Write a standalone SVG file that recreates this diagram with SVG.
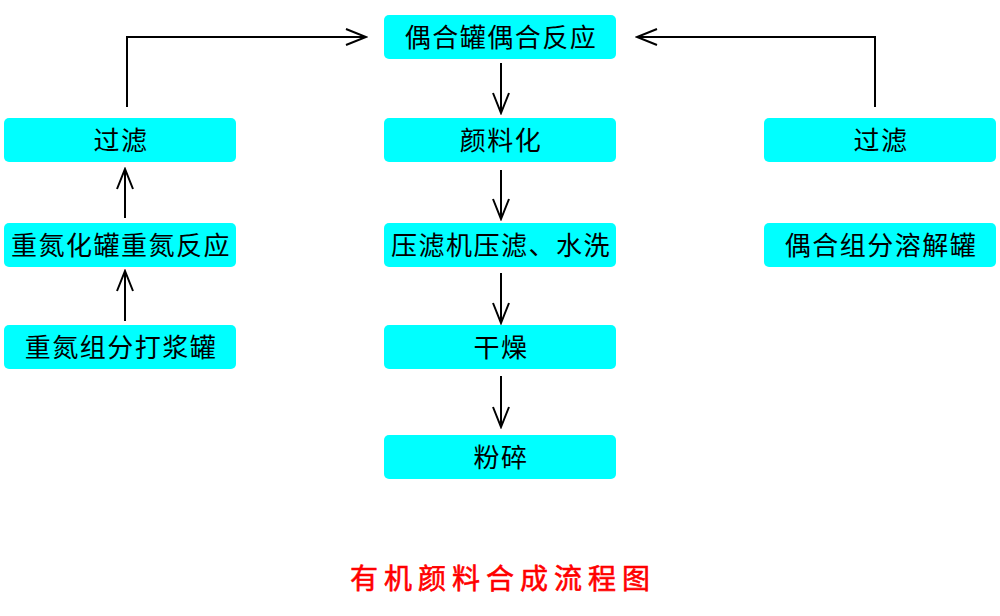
<svg xmlns="http://www.w3.org/2000/svg" width="1000" height="616" viewBox="0 0 1000 616">
<style>
.box{fill:#00FFFF}
.lbl{font-family:"Noto Sans CJK SC","Noto Sans",sans-serif;font-size:26px;font-weight:normal;fill:#000;text-anchor:middle;dominant-baseline:central;letter-spacing:1.5px}
.con{fill:none;stroke:#000;stroke-width:2}
.title{font-family:"Noto Sans CJK SC",sans-serif;font-size:28px;font-weight:normal;fill:#FF0000;stroke:#FF0000;stroke-width:0.6;text-anchor:middle;letter-spacing:6px}
</style>
<defs>
<marker id="arr" viewBox="-22 -10 24 20" refX="0" refY="0" markerWidth="24" markerHeight="20" markerUnits="userSpaceOnUse" orient="auto">
<path d="M-20,-8 L0,0 L-20,8" fill="none" stroke="#000" stroke-width="2"/>
</marker>
</defs>
<rect width="1000" height="616" fill="#fff"/>
<g id="connectors">
<path class="con" d="M127,107 V37 H366" marker-end="url(#arr)"/>
<path class="con" d="M875,107 V37 H637" marker-end="url(#arr)"/>
<path class="con" d="M501,63 V113" marker-end="url(#arr)"/>
<path class="con" d="M501,170 V219" marker-end="url(#arr)"/>
<path class="con" d="M501,273 V323" marker-end="url(#arr)"/>
<path class="con" d="M501,376 V427" marker-end="url(#arr)"/>
<path class="con" d="M125,218 V169" marker-end="url(#arr)"/>
<path class="con" d="M125,321 V271" marker-end="url(#arr)"/>
</g>
<g id="n_couple"><rect class="box" x="384" y="15" width="232" height="44" rx="5"/><text class="lbl" x="501" y="35">偶合罐偶合反应</text></g>
<g id="n_pigment"><rect class="box" x="384" y="118" width="232" height="44" rx="5"/><text class="lbl" x="501" y="138">颜料化</text></g>
<g id="n_press"><rect class="box" x="384" y="223" width="232" height="44" rx="5"/><text class="lbl" x="501" y="243">压滤机压滤、水洗</text></g>
<g id="n_dry"><rect class="box" x="384" y="325" width="232" height="44" rx="5"/><text class="lbl" x="501" y="345">干燥</text></g>
<g id="n_crush"><rect class="box" x="384" y="435" width="232" height="44" rx="5"/><text class="lbl" x="501" y="455">粉碎</text></g>
<g id="n_filter_l"><rect class="box" x="4" y="118" width="232" height="44" rx="5"/><text class="lbl" x="121" y="138">过滤</text></g>
<g id="n_diazo"><rect class="box" x="4" y="223" width="232" height="44" rx="5"/><text class="lbl" x="121" y="243">重氮化罐重氮反应</text></g>
<g id="n_slurry"><rect class="box" x="4" y="325" width="232" height="44" rx="5"/><text class="lbl" x="121" y="345">重氮组分打浆罐</text></g>
<g id="n_filter_r"><rect class="box" x="764" y="118" width="232" height="44" rx="5"/><text class="lbl" x="881" y="138">过滤</text></g>
<g id="n_dissolve"><rect class="box" x="764" y="223" width="232" height="44" rx="5"/><text class="lbl" x="881" y="243">偶合组分溶解罐</text></g>
<text class="title" x="503" y="589">有机颜料合成流程图</text>
</svg>
